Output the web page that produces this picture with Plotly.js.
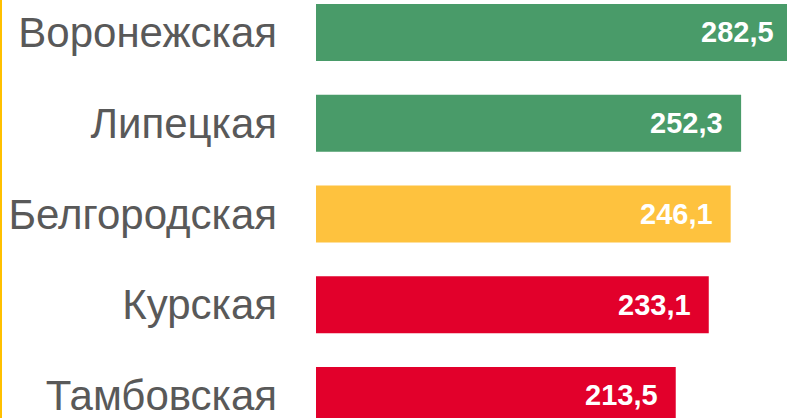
<!DOCTYPE html>
<html>
<head>
<meta charset="utf-8">
<script src="https://cdn.plot.ly/plotly-3.0.1.min.js"></script>
<style>html,body{margin:0;padding:0;background:#fff;overflow:hidden;}#wrap{width:787px;height:418px;overflow:hidden;}#chart{width:792px;height:418px;}</style>
</head>
<body>
<div id="wrap"><div id="chart"></div></div>
<script>
var regions = ["Воронежская", "Липецкая", "Белгородская", "Курская", "Тамбовская"];
var values = [282.5, 252.3, 246.1, 233.1, 213.5];
var barColors = ["#499B69", "#499B69", "#FEC23E", "#E2002B", "#E2002B"];

function fmt(v) { return v.toFixed(1).replace('.', ','); }

var trace = {
  type: 'bar',
  orientation: 'h',
  y: regions,
  x: values,
  marker: { color: barColors, line: { width: 0 } },
  width: 0.628,
  hoverinfo: 'none',
  cliponaxis: false
};

var annotations = regions.map(function (r, i) {
  return {
    xref: 'x', yref: 'y', x: values[i], y: r,
    text: fmt(values[i]), showarrow: false,
    xanchor: 'right', yanchor: 'middle', xshift: -16,
    font: { family: '"Liberation Sans", Arial, sans-serif', size: 29, color: '#ffffff', weight: 'bold' }
  };
});

var layout = {
  width: 792,
  height: 418,
  margin: { l: 316, r: 0, t: 0, b: 0, pad: 0 },
  paper_bgcolor: '#ffffff',
  plot_bgcolor: '#ffffff',
  showlegend: false,
  xaxis: { range: [0, 282.5], showgrid: false, zeroline: false, showline: false, showticklabels: false, ticks: '' },
  yaxis: {
    type: 'category',
    categoryorder: 'array',
    categoryarray: regions,
    range: [4.248, -0.358],
    showgrid: false, zeroline: false, showline: false, ticks: '',
    ticklabelstandoff: 38,
    tickfont: { family: '"Liberation Sans", Arial, sans-serif', size: 42, color: '#595959' }
  },
  annotations: annotations,
  shapes: [{
    type: 'line', xref: 'paper', yref: 'paper',
    x0: (1 - 316) / 476, x1: (1 - 316) / 476, y0: 0, y1: 1,
    line: { color: '#FFC000', width: 2 }
  }]
};

Plotly.newPlot('chart', [trace], layout, { staticPlot: true, displayModeBar: false });
</script>
</body>
</html>
